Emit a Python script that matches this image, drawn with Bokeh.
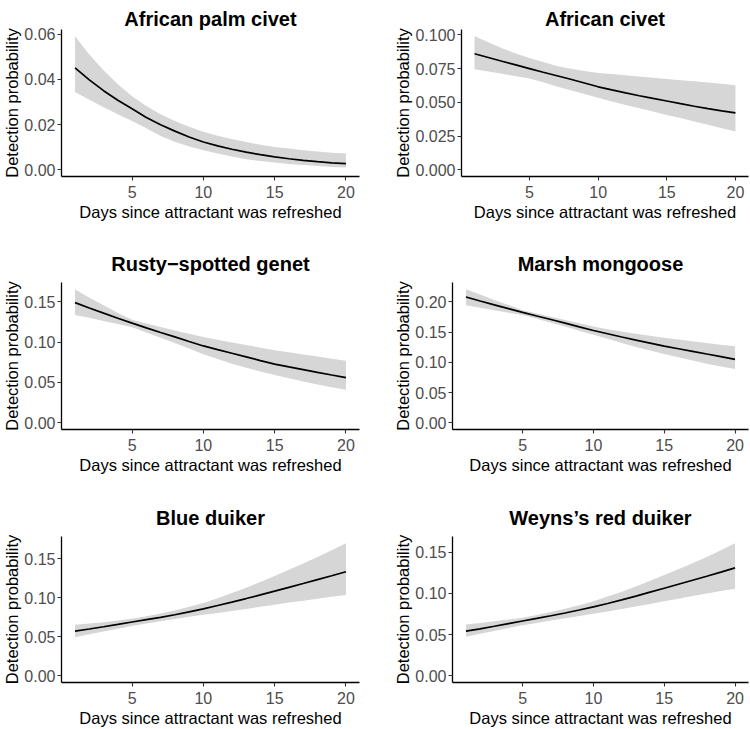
from bokeh.plotting import figure
from bokeh.layouts import column, row
from bokeh.models import Range1d, FixedTicker, PrintfTickFormatter
from bokeh.embed import file_html
from bokeh.resources import INLINE

# ---------------- data ----------------
days = list(range(1, 21))

titles = ["African palm civet", "African civet", "Rusty\u2212spotted genet",
          "Marsh mongoose", "Blue duiker", "Weyns\u2019s red duiker"]

palm_civet_fit = [0.0451, 0.0398, 0.0350, 0.0308, 0.0270, 0.0231, 0.0199, 0.0171, 0.0145, 0.0123,
                  0.0106, 0.0091, 0.0078, 0.0067, 0.0057, 0.0049, 0.0042, 0.0036, 0.0031, 0.0027]
palm_civet_hi = [0.0591, 0.0510, 0.0440, 0.0378, 0.0325, 0.0282, 0.0246, 0.0216, 0.0190, 0.0168,
                 0.0151, 0.0136, 0.0123, 0.0111, 0.0101, 0.0094, 0.0087, 0.0081, 0.0076, 0.0072]
palm_civet_lo = [0.0344, 0.0310, 0.0277, 0.0246, 0.0216, 0.0184, 0.0150, 0.0124, 0.0103, 0.0086,
                 0.0072, 0.0059, 0.0047, 0.0039, 0.0032, 0.0026, 0.0021, 0.0017, 0.0013, 0.0010]

civet_fit = [0.0860, 0.0832, 0.0804, 0.0777, 0.0750, 0.0723, 0.0697, 0.0671, 0.0643, 0.0615,
             0.0592, 0.0570, 0.0549, 0.0529, 0.0510, 0.0490, 0.0471, 0.0453, 0.0437, 0.0422]
civet_hi = [0.0990, 0.0945, 0.0900, 0.0862, 0.0828, 0.0798, 0.0770, 0.0748, 0.0732, 0.0718,
            0.0709, 0.0700, 0.0692, 0.0682, 0.0672, 0.0664, 0.0656, 0.0646, 0.0637, 0.0627]
civet_lo = [0.0745, 0.0728, 0.0711, 0.0694, 0.0676, 0.0648, 0.0618, 0.0590, 0.0562, 0.0534,
            0.0507, 0.0481, 0.0456, 0.0432, 0.0407, 0.0383, 0.0358, 0.0333, 0.0308, 0.0284]

genet_fit = [0.1488, 0.1422, 0.1358, 0.1295, 0.1234, 0.1176, 0.1119, 0.1064, 0.1007, 0.0952,
             0.0906, 0.0861, 0.0816, 0.0771, 0.0727, 0.0692, 0.0659, 0.0625, 0.0592, 0.0560]
genet_hi = [0.1655, 0.1550, 0.1455, 0.1360, 0.1275, 0.1230, 0.1187, 0.1143, 0.1103, 0.1063,
            0.1029, 0.0996, 0.0964, 0.0931, 0.0899, 0.0873, 0.0847, 0.0820, 0.0794, 0.0768]
genet_lo = [0.1336, 0.1300, 0.1262, 0.1224, 0.1185, 0.1120, 0.1055, 0.0988, 0.0919, 0.0850,
            0.0791, 0.0732, 0.0681, 0.0637, 0.0593, 0.0552, 0.0511, 0.0474, 0.0441, 0.0409]

mongoose_fit = [0.2081, 0.2016, 0.1952, 0.1889, 0.1827, 0.1768, 0.1709, 0.1649, 0.1588, 0.1528,
                0.1474, 0.1420, 0.1368, 0.1318, 0.1268, 0.1225, 0.1182, 0.1138, 0.1095, 0.1051]
mongoose_hi = [0.2211, 0.2122, 0.2034, 0.1948, 0.1864, 0.1810, 0.1756, 0.1702, 0.1647, 0.1593,
               0.1550, 0.1510, 0.1473, 0.1441, 0.1409, 0.1379, 0.1348, 0.1319, 0.1293, 0.1268]
mongoose_lo = [0.1946, 0.1905, 0.1864, 0.1823, 0.1783, 0.1720, 0.1657, 0.1592, 0.1525, 0.1458,
               0.1389, 0.1320, 0.1256, 0.1197, 0.1138, 0.1084, 0.1030, 0.0978, 0.0933, 0.0889]

blue_fit = [0.0573, 0.0601, 0.0630, 0.0660, 0.0691, 0.0721, 0.0751, 0.0784, 0.0821, 0.0860,
            0.0903, 0.0947, 0.0992, 0.1039, 0.1087, 0.1136, 0.1185, 0.1235, 0.1285, 0.1336]
blue_hi = [0.0657, 0.0672, 0.0688, 0.0710, 0.0733, 0.0765, 0.0800, 0.0840, 0.0886, 0.0936,
           0.0997, 0.1062, 0.1132, 0.1205, 0.1281, 0.1361, 0.1442, 0.1525, 0.1612, 0.1703]
blue_lo = [0.0497, 0.0533, 0.0570, 0.0606, 0.0641, 0.0672, 0.0702, 0.0730, 0.0757, 0.0784,
           0.0808, 0.0831, 0.0857, 0.0886, 0.0914, 0.0940, 0.0965, 0.0991, 0.1014, 0.1037]

weyns_fit = [0.0541, 0.0570, 0.0601, 0.0633, 0.0665, 0.0696, 0.0728, 0.0762, 0.0798, 0.0836,
             0.0877, 0.0921, 0.0966, 0.1014, 0.1062, 0.1110, 0.1158, 0.1207, 0.1257, 0.1309]
weyns_hi = [0.0621, 0.0641, 0.0661, 0.0682, 0.0704, 0.0738, 0.0773, 0.0812, 0.0856, 0.0903,
            0.0960, 0.1020, 0.1083, 0.1151, 0.1222, 0.1292, 0.1363, 0.1441, 0.1523, 0.1608]
weyns_lo = [0.0474, 0.0509, 0.0544, 0.0579, 0.0613, 0.0641, 0.0670, 0.0698, 0.0725, 0.0752,
            0.0781, 0.0810, 0.0840, 0.0871, 0.0903, 0.0935, 0.0967, 0.0999, 0.1027, 0.1055]

x_ticks = [5, 10, 15, 20]
y_ticks_palm = [0.00, 0.02, 0.04, 0.06]
y_ticks_civet = [0.000, 0.025, 0.050, 0.075, 0.100]
y_ticks_015 = [0.00, 0.05, 0.10, 0.15]
y_ticks_020 = [0.00, 0.05, 0.10, 0.15, 0.20]

panels = [
    (titles[0], palm_civet_fit, palm_civet_lo, palm_civet_hi, y_ticks_palm, "%.2f"),
    (titles[1], civet_fit, civet_lo, civet_hi, y_ticks_civet, "%.3f"),
    (titles[2], genet_fit, genet_lo, genet_hi, y_ticks_015, "%.2f"),
    (titles[3], mongoose_fit, mongoose_lo, mongoose_hi, y_ticks_020, "%.2f"),
    (titles[4], blue_fit, blue_lo, blue_hi, y_ticks_015, "%.2f"),
    (titles[5], weyns_fit, weyns_lo, weyns_hi, y_ticks_015, "%.2f"),
]

FONT = "Liberation Sans"
W = 375
row_top = [29, 59, 60]
row_frame = [148, 148, 148]
row_bot = [46, 46, 45]
title_standoff = [0, 16, 16]
left_border = [61, 86, 61, 77, 61, 77]
right_border = [16, 2, 16, 2, 16, 2]


def make_panel(i, title, fit, lo, hi, yt, fmt):
    r = i // 2
    xmin, xmax = min(days), max(days)
    xpad = (xmax - xmin) * 0.05
    ymax = max(hi)
    ypad = ymax * 0.05
    p = figure(width=W, height=row_top[r] + row_frame[r] + row_bot[r],
               x_range=Range1d(xmin - xpad, xmax + xpad),
               y_range=Range1d(-ypad, ymax + ypad),
               output_backend="svg", toolbar_location=None,
               min_border_left=left_border[i], min_border_right=right_border[i],
               min_border_top=row_top[r], min_border_bottom=row_bot[r],
               x_axis_label="Days since attractant was refreshed",
               y_axis_label="Detection probability")
    p.title.text = title
    p.title.align = "center"
    p.title.text_font = FONT
    p.title.text_font_size = "20px"
    p.title.text_font_style = "bold"
    p.title.text_color = "black"
    p.title.standoff = title_standoff[r]
    p.outline_line_color = None
    p.grid.visible = False
    p.background_fill_color = "white"
    p.border_fill_color = "white"

    p.varea(x=days, y1=lo, y2=hi, fill_color="#D6D6D6", fill_alpha=1.0)
    p.line(x=days, y=fit, line_color="black", line_width=1.7)

    p.xaxis.ticker = FixedTicker(ticks=x_ticks)
    p.yaxis.ticker = FixedTicker(ticks=yt)
    p.yaxis.formatter = PrintfTickFormatter(format=fmt)
    for ax in (p.xaxis, p.yaxis):
        ax.axis_line_color = "black"
        ax.axis_line_width = 1.3
        ax.major_tick_line_color = "#333333"
        ax.major_tick_line_width = 1.1
        ax.major_tick_out = 4
        ax.major_tick_in = 0
        ax.minor_tick_line_color = None
        ax.major_label_text_font = FONT
        ax.major_label_text_font_size = "16px"
        ax.major_label_text_color = "#4D4D4D"
        ax.axis_label_text_font = FONT
        ax.axis_label_text_font_size = "16.5px"
        ax.axis_label_text_font_style = "normal"
        ax.axis_label_text_color = "black"
    p.xaxis.major_label_standoff = 5
    p.xaxis.axis_label_standoff = 2
    p.yaxis.major_label_standoff = 2
    p.yaxis.axis_label_standoff = 0
    return p


figs = [make_panel(i, *panels[i]) for i in range(6)]
layout = column(row(figs[0], figs[1]), row(figs[2], figs[3]), row(figs[4], figs[5]))

open("out.html", "w").write(file_html(layout, INLINE))
